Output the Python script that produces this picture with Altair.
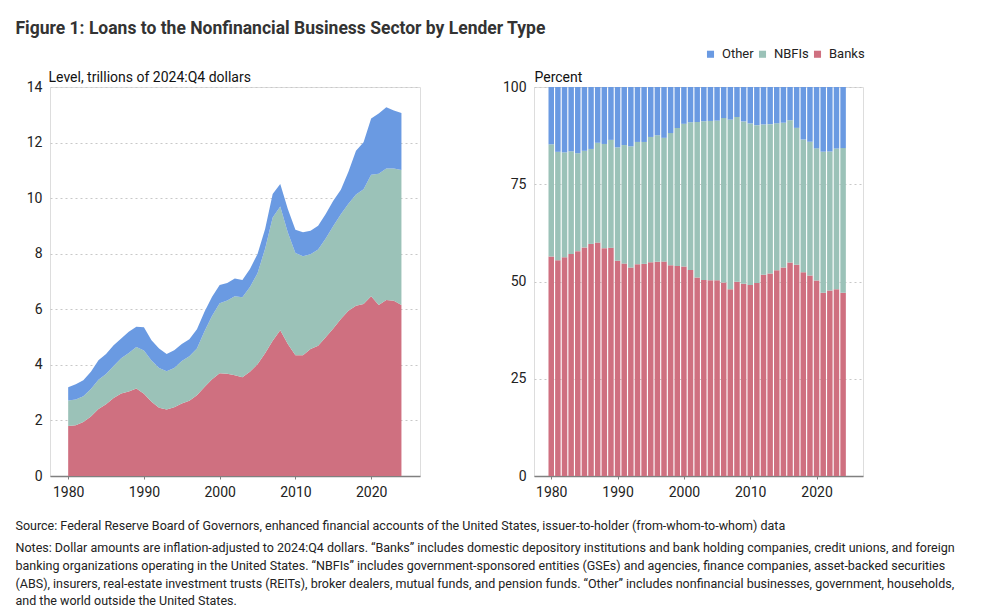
import altair as alt
import pandas as pd

# ---------------- data ----------------
years = list(range(1980, 2025))

# trillions of 2024:Q4 dollars
banks = [1.80, 1.83, 1.94, 2.14, 2.41, 2.58, 2.81, 2.97, 3.04, 3.15,
         2.96, 2.67, 2.46, 2.39, 2.47, 2.61, 2.71, 2.91, 3.20, 3.48,
         3.70, 3.68, 3.63, 3.55, 3.75, 4.02, 4.42, 4.87, 5.25, 4.75,
         4.35, 4.35, 4.57, 4.69, 4.99, 5.31, 5.65, 5.95, 6.13, 6.19,
         6.47, 6.15, 6.33, 6.31, 6.15]
nbfis = [0.92, 0.92, 0.93, 0.99, 1.05, 1.09, 1.15, 1.27, 1.39, 1.49,
         1.56, 1.49, 1.43, 1.38, 1.42, 1.53, 1.60, 1.68, 2.01, 2.29,
         2.52, 2.64, 2.84, 2.88, 3.05, 3.28, 3.76, 4.43, 4.45, 4.01,
         3.68, 3.56, 3.41, 3.46, 3.56, 3.69, 3.77, 3.85, 4.00, 4.13,
         4.37, 4.73, 4.74, 4.76, 4.86]
other = [0.47, 0.55, 0.58, 0.62, 0.71, 0.72, 0.75, 0.71, 0.76, 0.73,
         0.83, 0.73, 0.70, 0.62, 0.64, 0.61, 0.61, 0.69, 0.70, 0.68,
         0.65, 0.63, 0.64, 0.62, 0.65, 0.69, 0.71, 0.85, 0.81, 0.85,
         0.83, 0.86, 0.85, 0.86, 0.88, 0.91, 0.88, 1.15, 1.58, 1.69,
         2.03, 2.17, 2.20, 2.08, 2.05]

lenders = ["Other", "NBFIs", "Banks"]
colors = ["#6a9ae2", "#9bc2b8", "#cf7080"]
stack_order = {"Banks": 0, "NBFIs": 1, "Other": 2}

x_ticks = [1980, 1990, 2000, 2010, 2020]
left_ticks = [0, 2, 4, 6, 8, 10, 12, 14]
right_ticks = [0, 0.25, 0.5, 0.75, 1.0]

title_text = "Figure 1: Loans to the Nonfinancial Business Sector by Lender Type"
left_title = "Level, trillions of 2024:Q4 dollars"
right_title = "Percent"
source_text = ("Source: Federal Reserve Board of Governors, enhanced financial accounts of the "
               "United States, issuer-to-holder (from-whom-to-whom) data")
notes_lines = [
    "Notes: Dollar amounts are inflation-adjusted to 2024:Q4 dollars. \u201cBanks\u201d includes domestic depository institutions and bank holding companies, credit unions, and foreign",
    "banking organizations operating in the United States. \u201cNBFIs\u201d includes government-sponsored entities (GSEs) and agencies, finance companies, asset-backed securities",
    "(ABS), insurers, real-estate investment trusts (REITs), broker dealers, mutual funds, and pension funds. \u201cOther\u201d includes nonfinancial businesses, government, households,",
    "and the world outside the United States.",
]

rows = []
for i, yr in enumerate(years):
    for name, vals in (("Banks", banks), ("NBFIs", nbfis), ("Other", other)):
        rows.append({"year": yr, "lender": name, "value": vals[i], "ord": stack_order[name]})
df = pd.DataFrame(rows)

FONT = "Roboto"
color_scale = alt.Scale(domain=lenders, range=colors)


def x_axis():
    return alt.Axis(values=x_ticks, format="d", title=None, grid=False,
                    domainColor="#808080", domainWidth=1.5, tickColor="#808080",
                    tickSize=3, labelPadding=6, labelFontSize=14, labelColor="#222",
                    labelFont=FONT)


def y_axis(values, title, title_x, extent, **kw):
    return alt.Axis(values=values, title=title, titleAngle=0, titleX=title_x,
                    titleY=-6, titleAlign="left", titleBaseline="alphabetic",
                    titleFontSize=14, titleFontWeight="normal", titleColor="#111",
                    titleFont=FONT, grid=True, gridDash=[2, 3], gridColor="#c8c8c8",
                    domain=False, ticks=False, labelPadding=8, labelFontSize=14,
                    labelColor="#222", labelFont=FONT, minExtent=extent,
                    maxExtent=extent, **kw)


left = alt.Chart(df).mark_area(interpolate="linear").encode(
    x=alt.X("year:Q", scale=alt.Scale(domain=[1977.6, 2026.45], nice=False, zero=False,
                                      padding=0),
            axis=x_axis()),
    y=alt.Y("value:Q", stack="zero", scale=alt.Scale(domain=[0, 14], nice=False),
            axis=y_axis(left_ticks, left_title, -2, 34)),
    color=alt.Color("lender:N", scale=color_scale,
                    legend=alt.Legend(orient="none", direction="horizontal", legendX=654,
                                      legendY=-39.5, title=None, symbolType="square",
                                      symbolSize=50, symbolStrokeWidth=0, labelFontSize=13,
                                      labelFont=FONT, labelColor="#222", columnPadding=2,
                                      labelOffset=5, padding=0)),
    order=alt.Order("ord:Q", sort="ascending"),
).properties(width=370, height=389)

right = alt.Chart(df).mark_bar(size=5.5).encode(
    x=alt.X("year:Q", scale=alt.Scale(domain=[1977.4, 2027.0], nice=False, zero=False,
                                      padding=0),
            axis=x_axis()),
    y=alt.Y("value:Q", stack="normalize", scale=alt.Scale(domain=[0, 1], nice=False),
            axis=y_axis(right_ticks, right_title, 0, 32,
                        labelExpr="format(datum.value*100, 'd')")),
    color=alt.Color("lender:N", scale=color_scale),
    order=alt.Order("ord:Q", sort="ascending"),
).properties(width=329, height=389)

inner = alt.hconcat(left, right, spacing=80).properties(
    title=alt.TitleParams(text=[source_text], subtitle=notes_lines, orient="bottom",
                          anchor="start", frame="bounds", offset=20,
                          font=FONT, fontSize=12.5, fontWeight="normal", color="#222",
                          subtitleFont=FONT, subtitleFontSize=12.5, subtitleColor="#222",
                          subtitleLineHeight=17.8, subtitlePadding=10)
)

chart = alt.vconcat(inner).properties(
    title=alt.TitleParams(text=title_text, anchor="start", frame="bounds",
                          font=FONT, fontSize=17.5, fontWeight="bold", color="#333",
                          offset=10),
    padding={"left": 15, "top": 20, "right": 5, "bottom": 5},
).configure_view(stroke=None).configure(background="white")

chart.save("out.html", embed_options={"renderer": "svg", "actions": False})
